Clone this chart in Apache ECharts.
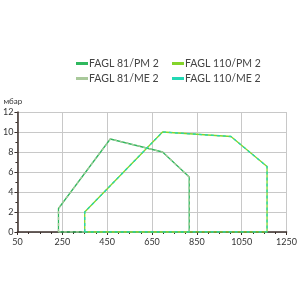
<!DOCTYPE html>
<html>
<head>
<meta charset="utf-8">
<script src="https://cdn.jsdelivr.net/npm/echarts@6/dist/echarts.min.js"></script>
<style>
  html, body { margin: 0; padding: 0; background: #fff; }
  #chart { width: 300px; height: 300px; }
</style>
</head>
<body>
<div id="chart"></div>
<script>
// рабочие поля горелок (расход, давление)
var names = ['FAGL 81/PM 2', 'FAGL 81/ME 2', 'FAGL 110/PM 2', 'FAGL 110/ME 2'];
var colors = ['#2fb85e', '#a9c99b', '#84d42a', '#22d8b4'];

var fagl81X = [233, 233, 464, 697, 816, 816, 233];
var fagl81Y = [0, 2.35, 9.3, 8.0, 5.5, 0, 0];
var fagl110X = [350, 350, 697, 1002, 1163, 1163, 350];
var fagl110Y = [0, 2.0, 10.0, 9.55, 6.55, 0, 0];

var xTicks = [50, 250, 450, 650, 850, 1050, 1250];
var yTicks = [0, 2, 4, 6, 8, 10, 12];

function pts(xs, ys) {
  return xs.map(function (x, i) { return [x, ys[i]]; });
}

var myChart = echarts.init(document.getElementById('chart'));

var font = 'Lato, "Noto Sans", sans-serif';

var legendStyle = {
  top: 53,
  orient: 'vertical',
  itemGap: 4,
  itemWidth: 12,
  itemHeight: 3,
  icon: 'rect',
  textStyle: { fontSize: 10.5, color: '#444', padding: [0, 0, 0, -4] }
};

var option = {
  animation: false,
  color: colors,
  textStyle: { fontFamily: font },
  legend: [
    Object.assign({ left: 71, data: [names[0], names[1]] }, legendStyle),
    Object.assign({ left: 167, data: [names[2], names[3]] }, legendStyle)
  ],
  grid: { left: 15, right: 12, top: 112, bottom: 68 },
  xAxis: {
    type: 'value',
    min: xTicks[0],
    max: xTicks[xTicks.length - 1],
    interval: 200,
    axisLine: { lineStyle: { color: '#3a2e2a', width: 1.5 } },
    axisTick: { show: true, length: 3, lineStyle: { color: '#3a2e2a' } },
    minorTick: { show: true, splitNumber: 4, length: 2, lineStyle: { color: '#3a2e2a' } },
    splitLine: { show: true, lineStyle: { color: '#c8c8c8', width: 1 } },
    axisLabel: { fontSize: 9, color: '#333', margin: 6, formatter: function (v) { return String(v); } }
  },
  yAxis: {
    type: 'value',
    name: 'мбар',
    nameLocation: 'end',
    nameGap: 7,
    nameTextStyle: { fontSize: 8, color: '#333', align: 'left', padding: [0, 0, 0, -14] },
    min: yTicks[0],
    max: yTicks[yTicks.length - 1],
    interval: 2,
    axisLine: { show: true, lineStyle: { color: '#3a2e2a', width: 1.5 } },
    axisTick: { show: true, length: 3, lineStyle: { color: '#3a2e2a' } },
    minorTick: { show: true, splitNumber: 2, length: 2, lineStyle: { color: '#3a2e2a' } },
    splitLine: { show: true, lineStyle: { color: '#c8c8c8', width: 1 } },
    axisLabel: { fontSize: 9, color: '#333', margin: 4 }
  },
  series: [{
    name: names[0],
    type: 'line',
    showSymbol: false,
    lineStyle: { width: 1.3 },
    data: pts(fagl81X, fagl81Y)
  }, {
    name: names[1],
    type: 'line',
    showSymbol: false,
    lineStyle: { width: 1.3, type: [3, 3] },
    data: pts(fagl81X, fagl81Y)
  }, {
    name: names[2],
    type: 'line',
    showSymbol: false,
    lineStyle: { width: 1.3 },
    data: pts(fagl110X, fagl110Y)
  }, {
    name: names[3],
    type: 'line',
    showSymbol: false,
    lineStyle: { width: 1.3, type: [3, 3] },
    data: pts(fagl110X, fagl110Y)
  }]
};

myChart.setOption(option);
</script>
</body>
</html>
